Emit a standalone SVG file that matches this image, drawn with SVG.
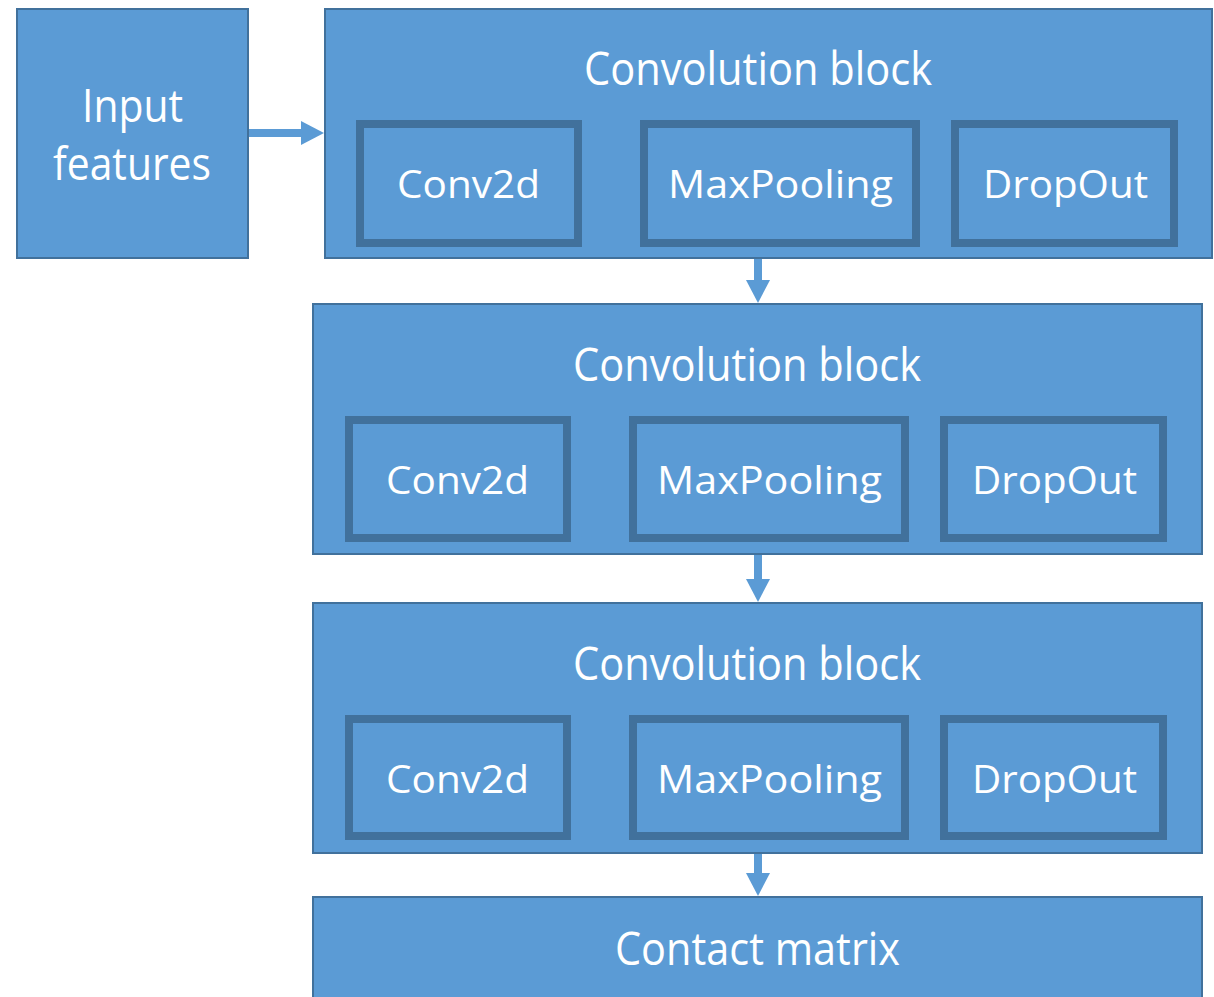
<svg xmlns="http://www.w3.org/2000/svg" width="1214" height="997" viewBox="0 0 1214 997">
  <defs>
    <style>
      .box { fill: #5B9BD5; stroke: #41719C; stroke-width: 2; }
      .layer { fill: #5B9BD5; stroke: #41719C; stroke-width: 8; }
      .lbl { fill: #FFFFFF; font-family: "Open Sans", "Noto Sans", sans-serif; text-anchor: middle; }
      .big { font-size: 45px; }
      .small { font-size: 39px; }
      .flow { stroke: #5B9BD5; stroke-width: 8; fill: none; marker-end: url(#head); }
    </style>
    <marker id="head" markerUnits="userSpaceOnUse" markerWidth="24" markerHeight="24" refX="13" refY="12" orient="auto" viewBox="0 0 24 24">
      <path d="M0,0 L23,12 L0,24 Z" fill="#5B9BD5"/>
    </marker>
  </defs>

  <rect width="1214" height="997" fill="#FFFFFF"/>

  <!-- input -->
  <g id="input-features">
    <rect class="box" x="17" y="9" width="231" height="249"/>
    <text class="lbl big" x="132.5" y="122" textLength="101" lengthAdjust="spacingAndGlyphs">Input</text>
    <text class="lbl big" x="132" y="180" textLength="158" lengthAdjust="spacingAndGlyphs">features</text>
  </g>

  <!-- convolution block 1 -->
  <g id="conv-block-1">
    <rect class="box" x="325" y="9" width="887" height="249"/>
    <text class="lbl big" x="758" y="85" textLength="348" lengthAdjust="spacingAndGlyphs">Convolution block</text>
    <g id="conv-block-1-conv2d">
      <rect class="layer" x="360" y="124" width="218" height="119"/>
      <text class="lbl small" x="468.5" y="198" textLength="143" lengthAdjust="spacingAndGlyphs">Conv2d</text>
    </g>
    <g id="conv-block-1-maxpooling">
      <rect class="layer" x="644" y="124" width="272" height="119"/>
      <text class="lbl small" x="780.5" y="198" textLength="225" lengthAdjust="spacingAndGlyphs">MaxPooling</text>
    </g>
    <g id="conv-block-1-dropout">
      <rect class="layer" x="955" y="124" width="219" height="119"/>
      <text class="lbl small" x="1065.5" y="198" textLength="165" lengthAdjust="spacingAndGlyphs">DropOut</text>
    </g>
  </g>

  <!-- convolution block 2 -->
  <g id="conv-block-2">
    <rect class="box" x="313" y="304" width="889" height="250"/>
    <text class="lbl big" x="747" y="381" textLength="348" lengthAdjust="spacingAndGlyphs">Convolution block</text>
    <g id="conv-block-2-conv2d">
      <rect class="layer" x="349" y="420" width="218" height="118"/>
      <text class="lbl small" x="457.5" y="494" textLength="143" lengthAdjust="spacingAndGlyphs">Conv2d</text>
    </g>
    <g id="conv-block-2-maxpooling">
      <rect class="layer" x="633" y="420" width="272" height="118"/>
      <text class="lbl small" x="769.5" y="494" textLength="225" lengthAdjust="spacingAndGlyphs">MaxPooling</text>
    </g>
    <g id="conv-block-2-dropout">
      <rect class="layer" x="944" y="420" width="219" height="118"/>
      <text class="lbl small" x="1054.5" y="494" textLength="165" lengthAdjust="spacingAndGlyphs">DropOut</text>
    </g>
  </g>

  <!-- convolution block 3 -->
  <g id="conv-block-3">
    <rect class="box" x="313" y="603" width="889" height="250"/>
    <text class="lbl big" x="747" y="680" textLength="348" lengthAdjust="spacingAndGlyphs">Convolution block</text>
    <g id="conv-block-3-conv2d">
      <rect class="layer" x="349" y="719" width="218" height="117"/>
      <text class="lbl small" x="457.5" y="793" textLength="143" lengthAdjust="spacingAndGlyphs">Conv2d</text>
    </g>
    <g id="conv-block-3-maxpooling">
      <rect class="layer" x="633" y="719" width="272" height="117"/>
      <text class="lbl small" x="769.5" y="793" textLength="225" lengthAdjust="spacingAndGlyphs">MaxPooling</text>
    </g>
    <g id="conv-block-3-dropout">
      <rect class="layer" x="944" y="719" width="219" height="117"/>
      <text class="lbl small" x="1054.5" y="793" textLength="165" lengthAdjust="spacingAndGlyphs">DropOut</text>
    </g>
  </g>

  <!-- output -->
  <g id="contact-matrix">
    <rect class="box" x="313" y="897" width="889" height="120"/>
    <text class="lbl big" x="757.5" y="965" textLength="285" lengthAdjust="spacingAndGlyphs">Contact matrix</text>
  </g>

  <!-- connectors -->
  <g id="connectors">
    <line class="flow" x1="249" y1="133" x2="314" y2="133"/>
    <line class="flow" x1="758" y1="259" x2="758" y2="293"/>
    <line class="flow" x1="758" y1="555" x2="758" y2="592"/>
    <line class="flow" x1="758" y1="854" x2="758" y2="886"/>
  </g>
</svg>
